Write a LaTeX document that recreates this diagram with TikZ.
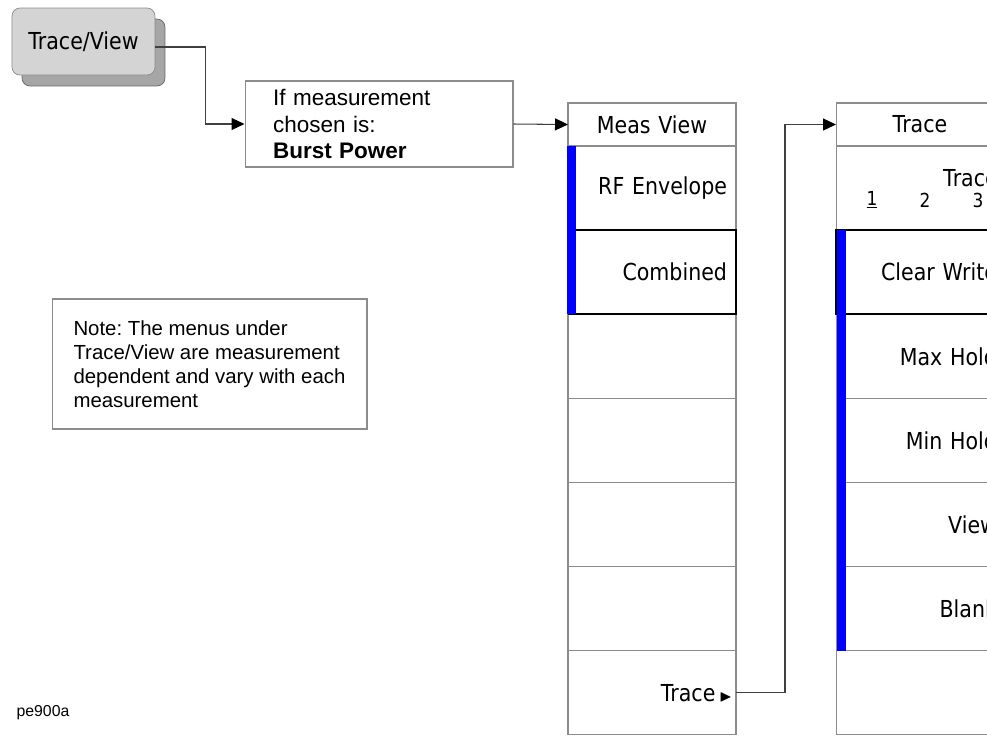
\documentclass[tikz,border=0pt]{standalone}
\usepackage{amssymb}
\usepackage{fontspec}
\setmainfont{Liberation Sans}
\newfontfamily\menufont[FakeStretch=0.88]{DejaVu Sans}
\usepackage{tikz}
\usetikzlibrary{positioning,arrows.meta,calc,shadows}
\usepackage{xcolor}
\definecolor{keyface}{HTML}{D4D4D4}
\definecolor{keyshade}{HTML}{A6A6A6}
\definecolor{rowgray}{HTML}{8C8C8C}
\definecolor{conngray}{HTML}{404040}
\definecolor{selblue}{HTML}{0000FF}
\frenchspacing

\begin{document}
\begin{tikzpicture}[
    x=0.02cm, y=-0.02cm,
    node distance=0pt,
    hardkey/.style={
        rectangle, rounded corners=0.16cm, draw=rowgray, fill=keyface,
        minimum width=2.86cm, minimum height=1.34cm,
        font=\menufont\fontsize{13.3}{15}\selectfont,
        general shadow={shadow xshift=0.2cm, shadow yshift=-0.22cm,
            fill=keyshade, draw=gray!80!black}
    },
    annot/.style={
        rectangle, draw=rowgray, line width=0.6pt, inner ysep=0pt,
        align=left, font=\fontsize{12.8}{15.3}\selectfont
    },
    menurow/.style={
        rectangle, draw=rowgray, line width=0.6pt, inner sep=0pt,
        outer sep=0pt, minimum width=3.36cm, minimum height=1.683cm,
        text width=3.0cm, align=right,
        font=\menufont\fontsize{13.3}{15}\selectfont
    },
    menutitle/.style={menurow, minimum height=0.86cm, align=center},
    tracerow/.style={menurow, text width=3.08cm},
    selline/.style={draw=black, line width=1.2pt},
    conn/.style={-{Triangle[length=0.26cm, width=0.24cm, black]},
        draw=conngray, line width=0.6pt},
]
\useasboundingbox (0,0) rectangle (987,745);
\clip (0,0) rectangle (987,745);

% Hard key and conditions
\node[hardkey] (key) at (83.5,41.5) {Trace/View};
\node[annot, minimum width=5.36cm, minimum height=1.72cm, text width=4.24cm,
    inner xsep=0.56cm] (ifbox) at (379,124)
    {If measurement\\chosen is:\\\textbf{Burst Power}};
\node[annot, minimum width=6.3cm, minimum height=2.6cm,
    inner xsep=0.42cm, font=\fontsize{11.6}{13.6}\selectfont] (note) at (209.5,364)
    {Note: The menus under\\Trace/View are measurement\\dependent and vary with each\\measurement};
\node[font=\fontsize{9}{10}\selectfont] (fig) at (43,713) {pe900a};

% Meas View menu
\node[menutitle] (mvtitle) at (652,124.5) {Meas View};
\node[menurow, below=of mvtitle] (mvrf) {RF Envelope};
\node[menurow, below=of mvrf] (mvcomb) {Combined};
\node[menurow, below=of mvcomb] (mvempa) {};
\node[menurow, below=of mvempa] (mvempb) {};
\node[menurow, below=of mvempb] (mvempc) {};
\node[menurow, below=of mvempc] (mvempd) {};
\node[menurow, below=of mvempd] (mvtrace)
    {Trace\,\scalebox{0.7}{$\blacktriangleright$}\kern-0.1cm};

% Trace menu
\node[menutitle] (trtitle) at (920,124.5) {Trace};
\node[tracerow, below=of trtitle] (trsel) {};
\node[tracerow, below=of trsel] (trclear) {Clear Write};
\node[tracerow, below=of trclear] (trmax) {Max Hold};
\node[tracerow, below=of trmax] (trmin) {Min Hold};
\node[tracerow, below=of trmin] (trview) {View};
\node[tracerow, below=of trview] (trblank) {Blank};
\node[tracerow, below=of trblank] (trempty) {};
\node[font=\menufont\fontsize{13.3}{15}\selectfont, anchor=west] (trsellbl) at (937,178) {Trace};
\node[font=\menufont\fontsize{11}{13}\selectfont] (tra) at (872,200) {\underline{1}};
\node[font=\menufont\fontsize{11}{13}\selectfont] (trb) at (925,200) {2};
\node[font=\menufont\fontsize{11}{13}\selectfont] (trc) at (978,200) {3};

% Selected items
\draw[selline] (mvcomb.north west) -- (mvcomb.north east)
    -- (mvcomb.south east) -- (mvcomb.south west);
\draw[selline] (trclear.north east) -- (trclear.north west)
    -- (trclear.south west) -- (trclear.south east);
\fill[selblue] ($(mvrf.north west)+(-1,0)$) rectangle ($(mvcomb.south west)+(8,0)$);
\fill[selblue] ($(trclear.north west)+(1,0)$) rectangle ($(trblank.south west)+(10,0)$);

% Connectors
\draw[conn] ($(key.east)+(0,5.5)$) -- ++(50,0) |- (ifbox.west);
\draw[conn] (ifbox.east) -- (mvtitle.west);
\draw[conn] (mvtrace.east) -- ++(49,0) |- (trtitle.west);

\end{tikzpicture}
\end{document}
